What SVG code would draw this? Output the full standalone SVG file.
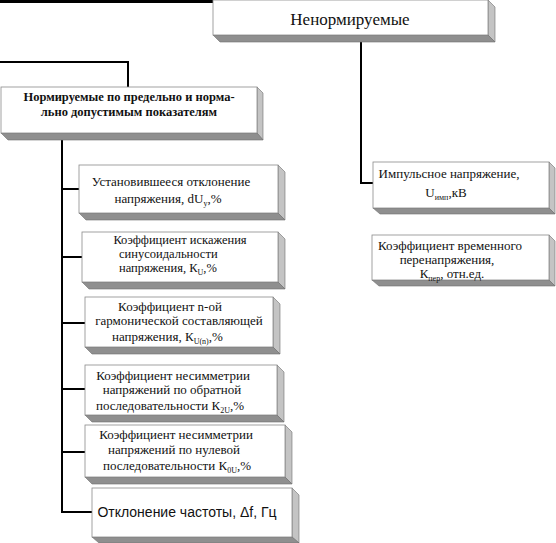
<svg xmlns="http://www.w3.org/2000/svg" width="556" height="543" viewBox="0 0 556 543">
<style>
.front{fill:#fff;stroke:#8a8a8a;stroke-width:0.8}
.side{fill:#c4c4c4;stroke:#6e6e6e;stroke-width:0.6}
.bottom{fill:#8f8f8f;stroke:#6e6e6e;stroke-width:0.6}
.t{font-size:13px;fill:#111}
.tb{font-size:12.5px;font-weight:bold;fill:#111}
.ta{font-family:'Liberation Sans',Arial,sans-serif;font-size:14px;fill:#111}
.sub{font-size:8px}
.conn{fill:none;stroke:#000;stroke-width:2}
</style>
<rect x="0" y="0" width="353" height="3" fill="#000"/>
<g id="connectors">
<polyline class="conn" points="0,62 128,62 128,87"/>
<polyline class="conn" points="361,42 361,183 373,183"/>
<line class="conn" x1="62" y1="140" x2="62" y2="513"/>
<line class="conn" x1="62" y1="189" x2="79" y2="189"/>
<line class="conn" x1="62" y1="257" x2="82" y2="257"/>
<line class="conn" x1="62" y1="323" x2="85" y2="323"/>
<line class="conn" x1="62" y1="389" x2="85" y2="389"/>
<line class="conn" x1="62" y1="452" x2="85" y2="452"/>
<line class="conn" x1="61" y1="512" x2="92" y2="512"/>
</g>
<g font-family="'Liberation Serif', 'Times New Roman', 'DejaVu Serif', serif">
<g id="n-nenorm">
<polygon class="side" points="488,0 495,7 495,42 488,35"/>
<polygon class="bottom" points="213,35 220,42 495,42 488,35"/>
<rect class="front" x="213" y="0" width="275" height="35"/>
<text class="t" style="font-size:17px" x="350" y="25" text-anchor="middle">Ненормируемые</text>
</g>
<g id="n-norm">
<polygon class="side" points="257,87 263,93 263,140 257,133"/>
<polygon class="bottom" points="1,133 8,140 263,140 257,133"/>
<rect class="front" x="1" y="87" width="256" height="46"/>
<text class="tb" x="129" y="101" text-anchor="middle">Нормируемые по предельно и норма-</text>
<text class="tb" x="129" y="116" text-anchor="middle">льно допустимым показателям</text>
</g>
<g id="n-b1">
<polygon class="side" points="278,165 285,172 285,220 278,213"/>
<polygon class="bottom" points="79,213 86,220 285,220 278,213"/>
<rect class="front" x="79" y="165" width="199" height="48"/>
<text class="t" x="171" y="186" text-anchor="middle">Установившееся отклонение</text>
<text class="t" x="168" y="203" text-anchor="middle">напряжения,  dU<tspan class="sub" dy="3">у</tspan><tspan dy="-3">,%</tspan></text>
</g>
<g id="n-b2">
<polygon class="side" points="278,232 285,239 285,289 278,282"/>
<polygon class="bottom" points="82,282 89,289 285,289 278,282"/>
<rect class="front" x="82" y="232" width="196" height="50"/>
<text class="t" style="font-size:12.5px" x="180" y="244" text-anchor="middle">Коэффициент искажения</text>
<text class="t" style="font-size:12.5px" x="119" y="258">синусоидальности</text>
<text class="t" style="font-size:12.5px" x="119" y="272">напряжения, К<tspan class="sub" dy="3">U</tspan><tspan dy="-3">,%</tspan></text>
</g>
<g id="n-b3">
<polygon class="side" points="273,297 280,304 280,354 273,347"/>
<polygon class="bottom" points="85,347 92,354 280,354 273,347"/>
<rect class="front" x="85" y="297" width="188" height="50"/>
<text class="t" x="170" y="311" text-anchor="middle">Коэффициент n-ой</text>
<text class="t" x="179" y="325" text-anchor="middle">гармонической составляющей</text>
<text class="t" x="112" y="341">напряжения,  К<tspan class="sub" dy="3">U(n)</tspan><tspan dy="-3">,%</tspan></text>
</g>
<g id="n-b4">
<polygon class="side" points="277,365 284,372 284,422 277,415"/>
<polygon class="bottom" points="85,415 92,422 284,422 277,415"/>
<rect class="front" x="85" y="365" width="192" height="50"/>
<text class="t" x="173" y="380" text-anchor="middle">Коэффициент несимметрии</text>
<text class="t" x="172" y="394" text-anchor="middle">напряжений по обратной</text>
<text class="t" x="170" y="410" text-anchor="middle">последовательности К<tspan class="sub" dy="3">2U</tspan><tspan dy="-3">,%</tspan></text>
</g>
<g id="n-b5">
<polygon class="side" points="285,425 292,432 292,484 285,477"/>
<polygon class="bottom" points="85,477 92,484 292,484 285,477"/>
<rect class="front" x="85" y="425" width="200" height="52"/>
<text class="t" x="176" y="439" text-anchor="middle">Коэффициент несимметрии</text>
<text class="t" x="174" y="454" text-anchor="middle">напряжений по нулевой</text>
<text class="t" x="177" y="470" text-anchor="middle">последовательности К<tspan class="sub" dy="3">0U</tspan><tspan dy="-3">,%</tspan></text>
</g>
<g id="n-b6">
<polygon class="side" points="292,488 299,495 299,543 292,537"/>
<polygon class="bottom" points="92,537 99,543 299,543 292,537"/>
<rect class="front" x="92" y="488" width="200" height="49"/>
<text class="ta" x="187" y="517" text-anchor="middle">Отклонение частоты, Δf, Гц</text>
</g>
<g id="n-imp">
<polygon class="side" points="549,162 555,168 555,214 549,208"/>
<polygon class="bottom" points="373,208 380,214 555,214 549,208"/>
<rect class="front" x="373" y="162" width="176" height="46"/>
<text class="t" x="449" y="178" text-anchor="middle">Импульсное напряжение,</text>
<text class="t" x="446" y="197" text-anchor="middle">U<tspan class="sub" dy="3">имп</tspan><tspan dy="-3">,кВ</tspan></text>
</g>
<g id="n-vrem">
<polygon class="side" points="549,235 555,241 555,286 549,280"/>
<polygon class="bottom" points="372,280 379,286 555,286 549,280"/>
<rect class="front" x="372" y="235" width="177" height="45"/>
<text class="t" x="450" y="250" text-anchor="middle">Коэффициент временного</text>
<text class="t" x="447" y="264" text-anchor="middle">перенапряжения,</text>
<text class="t" x="452" y="278" text-anchor="middle">К<tspan class="sub" dy="3">пер</tspan><tspan dy="-3">, отн.ед.</tspan></text>
</g>
</g>
</svg>
